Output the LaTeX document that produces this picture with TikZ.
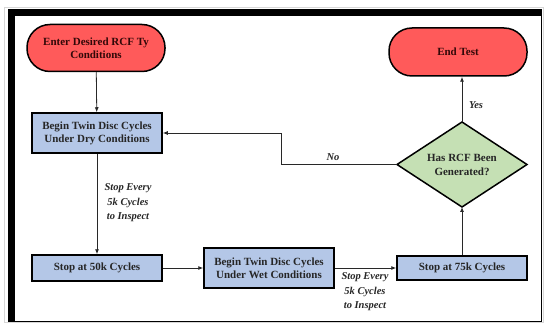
\documentclass[tikz,border=0pt]{standalone}
\usepackage{fontspec}
\setmainfont{Liberation Serif}
\usetikzlibrary{arrows.meta}

\tikzset{
    termbox/.style={draw, line width=1.5pt, rounded corners=23pt, fill={rgb,255:red,255; green,90; blue,90},
        text={rgb,255:red,50; green,8; blue,8}, font=\fontsize{11}{13}\selectfont\bfseries, align=center, minimum width=138pt},
    stepbox/.style={draw, line width=1.5pt, fill={rgb,255:red,180; green,199; blue,231},
        text={rgb,255:red,38; green,38; blue,38}, font=\fontsize{11}{13}\selectfont\bfseries, align=center, minimum width=130pt},
    checkbox/.style={draw, line width=1.5pt, fill={rgb,255:red,197; green,224; blue,180},
        text={rgb,255:red,38; green,38; blue,38}, font=\fontsize{11}{14}\selectfont\bfseries, align=center},
    flow/.style={draw={rgb,255:red,40; green,40; blue,40}, line width=0.8pt, -{Latex[length=5pt,width=4pt]}},
    steplabel/.style={font=\fontsize{10.5}{14.5}\selectfont\bfseries\itshape, align=center, text={rgb,255:red,38; green,38; blue,38}}
}

\begin{document}
\begin{tikzpicture}[x=1pt, y=-1pt]
    \useasboundingbox (0,0) rectangle (546,323);
    %frame
    \draw[color={rgb,255:red,215; green,215; blue,215}, line width=0.6pt] (4,7) rectangle (543,322);
    \draw[line width=0.9pt] (8,9) rectangle (541,321);
    \fill (8,9) rectangle (541,16);
    \fill (8,9) rectangle (15,321);

    %nodes
    \node[termbox, minimum height=47pt] (start) at (96,48) {Enter Desired RCF Ty\\Conditions};
    \node[stepbox, minimum height=40pt] (dry) at (97,133) {Begin Twin Disc Cycles\\Under Dry Conditions};
    \node[stepbox, minimum height=26pt] (stopa) at (97,268) {Stop at 50k Cycles};
    \node[stepbox, minimum height=40pt] (wet) at (269,268) {Begin Twin Disc Cycles\\Under Wet Conditions};
    \node[stepbox, minimum height=24pt] (stopb) at (462,268) {Stop at 75k Cycles};
    \draw[checkbox] (462,122) -- (527,164.5) -- (462,207) -- (397,164.5) -- cycle;
    \node[checkbox, draw=none, fill=none] (check) at (462,164.5) {Has RCF Been\\Generated?};
    \coordinate (checkn) at (462,122);
    \coordinate (checkw) at (397,164.5);
    \coordinate (checks) at (462,207);
    \node[termbox, minimum height=48pt] (end) at (458,52) {End Test};
    \coordinate (noturn) at (281,133);

    %connectors
    \draw[flow] (start) -- (dry);
    \draw[flow] (dry) -- (stopa);
    \draw[flow] (stopa) -- (wet);
    \draw[flow] (wet) -- (stopb);
    \draw[flow] (stopb) -- (checks);
    \draw[flow] (checkn) -- (checkn |- end.south);
    \draw[flow] (checkw) -| (noturn) -- (dry.east);

    %labels
    \node[steplabel] (lbla) at (128,203) {Stop Every\\5k Cycles\\to Inspect};
    \node[steplabel] (lblb) at (365,292) {Stop Every\\5k Cycles\\to Inspect};
    \node[steplabel] (lblyes) at (476,105) {Yes};
    \node[steplabel] (lblno) at (333,157) {No};
\end{tikzpicture}
\end{document}
